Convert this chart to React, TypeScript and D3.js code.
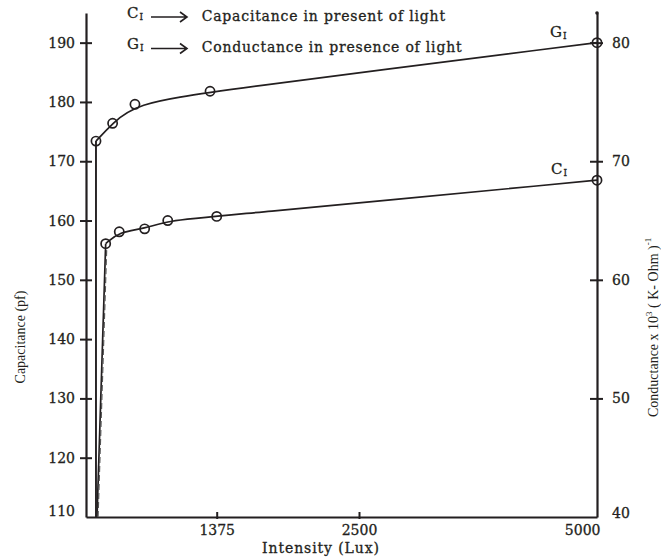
import React, { useRef, useEffect } from 'react';
import * as d3 from 'd3';

// G_I — conductance (x10^3 (K-Ohm)^-1), right axis
const G_LUX = [105, 280, 515, 1305, 5000];
const G_VAL = [71.7, 73.2, 74.8, 75.9, 80];
// steep rise drawn below the first G reading
const G_RISE_LUX = [105, 105];
const G_RISE_VAL = [40, 71.7];

// C_I — capacitance (pf), left axis
const C_LUX = [207, 350, 617, 860, 1375, 5000];
const C_VAL = [156.1, 158.1, 158.6, 160.0, 160.7, 166.8];
const C_RISE_LUX = [116, 207];
const C_RISE_VAL = [110, 156.1];
const C_RISE2_LUX = [127, 218];
const C_RISE2_VAL = [110, 155.3];

const X_TICKS = [1375, 2500, 5000];
const LEFT_TICKS = [110, 120, 130, 140, 150, 160, 170, 180, 190];
const RIGHT_TICKS = [40, 50, 60, 70, 80];

const LEGEND_SYMBOLS = ['C', 'G'];
const LEGEND_TEXT = ['Capacitance in present of light', 'Conductance in presence of light'];

const W = 661;
const H = 558;
const INK = '#231f20';
const SERIF = '"DejaVu Serif", serif';
const TIMES = '"Liberation Serif", "Times New Roman", serif';

const zip = (a: number[], b: number[]): [number, number][] => a.map((v, i) => [v, b[i]]);

const App: React.FC = () => {
  const ref = useRef<SVGSVGElement>(null);

  useEffect(() => {
    if (!ref.current) return;
    const svg = d3.select(ref.current);
    svg.selectAll('*').remove();

    // hand-drawn intensity axis is not evenly spaced
    const x = d3.scaleLinear().domain([0, 1375, 2500, 5000]).range([86, 216.7, 359, 597]);
    const yL = d3.scaleLinear().domain([110, 195]).range([517, 13]);
    const yR = d3.scaleLinear().domain([40, 82.5]).range([517, 13]);

    const styleAxis = (g: d3.Selection<SVGGElement, unknown, null, undefined>) => {
      g.select('.domain').attr('stroke', INK).attr('stroke-width', 2.2);
      g.selectAll('.tick line').attr('stroke', INK).attr('stroke-width', 2);
      g.selectAll('.tick text')
        .style('font-family', SERIF)
        .style('font-size', '14px')
        .attr('fill', INK)
        .attr('stroke', INK)
        .attr('stroke-width', 0.3);
    };

    // Left axis
    const gl = svg
      .append('g')
      .attr('transform', `translate(${x(0)},0)`)
      .call(d3.axisLeft(yL).tickValues(LEFT_TICKS).tickSizeInner(6).tickSizeOuter(0).tickPadding(5));
    styleAxis(gl);
    gl.selectAll<SVGLineElement, number>('.tick line')
      .attr('x1', 6)
      .attr('display', (d) => (d === 110 ? 'none' : null));
    gl.selectAll<SVGTextElement, number>('.tick text').attr('dy', (d) => (d === 110 ? '-0.1em' : '0.32em'));

    // Right axis
    const gr = svg
      .append('g')
      .attr('transform', `translate(${x(5000)},0)`)
      .call(d3.axisRight(yR).tickValues(RIGHT_TICKS).tickSizeInner(6).tickSizeOuter(0).tickPadding(9));
    styleAxis(gr);
    gr.selectAll<SVGLineElement, number>('.tick line')
      .attr('x1', -7)
      .attr('display', (d) => (d === 40 ? 'none' : null));
    gr.selectAll<SVGTextElement, number>('.tick text').attr('dy', (d) => (d === 40 ? '0' : '0.32em'));
    svg.append('circle').attr('cx', x(5000)).attr('cy', 13).attr('r', 1.8).attr('fill', INK);

    // Bottom axis
    const gb = svg
      .append('g')
      .attr('transform', `translate(0,${yL(110)})`)
      .call(
        d3
          .axisBottom(x)
          .tickValues(X_TICKS)
          .tickSizeInner(2)
          .tickSizeOuter(0)
          .tickPadding(6)
          .tickFormat(d3.format('d'))
      );
    styleAxis(gb);
    gb.selectAll<SVGLineElement, number>('.tick line')
      .attr('y1', -5)
      .attr('display', (d) => (d === 5000 ? 'none' : null));
    gb.selectAll<SVGTextElement, number>('.tick text')
      .attr('text-anchor', (d) => (d === 5000 ? 'end' : 'middle'))
      .attr('x', (d) => (d === 5000 ? 3 : 0));

    // Curves
    const lineG = d3
      .line<[number, number]>()
      .x((d) => x(d[0]))
      .y((d) => yR(d[1]))
      .curve(d3.curveBasis);
    const lineC = d3
      .line<[number, number]>()
      .x((d) => x(d[0]))
      .y((d) => yL(d[1]))
      .curve(d3.curveBasis);
    const straightR = d3
      .line<[number, number]>()
      .x((d) => x(d[0]))
      .y((d) => yR(d[1]));
    const straightL = d3
      .line<[number, number]>()
      .x((d) => x(d[0]))
      .y((d) => yL(d[1]));

    const curves = svg.append('g').attr('fill', 'none').attr('stroke', INK);
    curves.append('path').attr('d', straightR(zip(G_RISE_LUX, G_RISE_VAL))).attr('stroke-width', 1.9);
    curves.append('path').attr('d', straightL(zip(C_RISE_LUX, C_RISE_VAL))).attr('stroke-width', 1.7);
    curves
      .append('path')
      .attr('d', straightL(zip(C_RISE2_LUX, C_RISE2_VAL)))
      .attr('stroke-width', 1.2)
      .attr('stroke', '#555')
      .attr('stroke-dasharray', '6,3');
    curves.append('path').attr('d', lineG(zip(G_LUX, G_VAL))).attr('stroke-width', 1.7);
    curves.append('path').attr('d', lineC(zip(C_LUX, C_VAL))).attr('stroke-width', 1.7);

    // Markers
    const marks = svg.append('g').attr('fill', 'none').attr('stroke', INK).attr('stroke-width', 1.7);
    marks
      .selectAll('.mg')
      .data(zip(G_LUX, G_VAL))
      .enter()
      .append('circle')
      .attr('cx', (d) => x(d[0]))
      .attr('cy', (d) => yR(d[1]))
      .attr('r', 4.6);
    marks
      .selectAll('.mc')
      .data(zip(C_LUX, C_VAL))
      .enter()
      .append('circle')
      .attr('cx', (d) => x(d[0]))
      .attr('cy', (d) => yL(d[1]))
      .attr('r', 4.6);

    // Curve end labels
    const symbol = (sym: string, px: number, py: number) => {
      const t = svg
        .append('text')
        .attr('x', px)
        .attr('y', py)
        .attr('fill', INK)
        .attr('stroke', INK)
        .attr('stroke-width', 0.3)
        .style('font-family', SERIF)
        .style('font-size', '15px');
      t.append('tspan').text(sym);
      t.append('tspan').attr('dx', 1).attr('dy', 2).style('font-size', '9px').text('I');
    };
    symbol('G', x(5000) - 47, yR(80) - 6);
    symbol('C', x(5000) - 46, yL(166.8) - 6);

    // Legend
    LEGEND_SYMBOLS.forEach((sym, i) => {
      const base = 17.5 + i * 31.5;
      symbol(sym, 127, base);
      const ay = base - 0.5;
      svg
        .append('path')
        .attr('d', `M151,${ay}H186.5M180,${ay - 5}L187,${ay}L180,${ay + 5}`)
        .attr('fill', 'none')
        .attr('stroke', INK)
        .attr('stroke-width', 1.6);
      svg
        .append('text')
        .attr('x', 201.7)
        .attr('y', base + 3)
        .attr('fill', INK)
        .attr('stroke', INK)
        .attr('stroke-width', 0.3)
        .style('font-family', SERIF)
        .style('font-size', '14px')
        .style('letter-spacing', '0.8px')
        .text(LEGEND_TEXT[i]);
    });

    // Axis titles
    svg
      .append('text')
      .attr('transform', 'translate(25,337) rotate(-90)')
      .attr('text-anchor', 'middle')
      .attr('fill', INK)
      .style('font-family', TIMES)
      .style('font-size', '14px')
      .text('Capacitance (pf)');

    const rt = svg
      .append('text')
      .attr('transform', 'translate(658,417) rotate(-90)')
      .attr('fill', INK)
      .style('font-family', TIMES)
      .style('font-size', '14px');
    rt.append('tspan').text('Conductance x 10');
    rt.append('tspan').attr('dy', -6).style('font-size', '9px').text('3');
    rt.append('tspan').attr('dy', 6).text(' ( K- Ohm )');
    rt.append('tspan').attr('dy', -7).style('font-size', '9px').text('-1');

    svg
      .append('text')
      .attr('x', 321)
      .attr('y', 553)
      .attr('text-anchor', 'middle')
      .attr('fill', INK)
      .attr('stroke', INK)
      .attr('stroke-width', 0.3)
      .style('font-family', SERIF)
      .style('font-size', '14px')
      .style('letter-spacing', '0.9px')
      .text('Intensity (Lux)');
  }, []);

  return (
    <svg
      ref={ref}
      width={W}
      height={H}
      style={{ position: 'absolute', left: 0, top: 0, background: '#fff', display: 'block' }}
    />
  );
};

export default App;
